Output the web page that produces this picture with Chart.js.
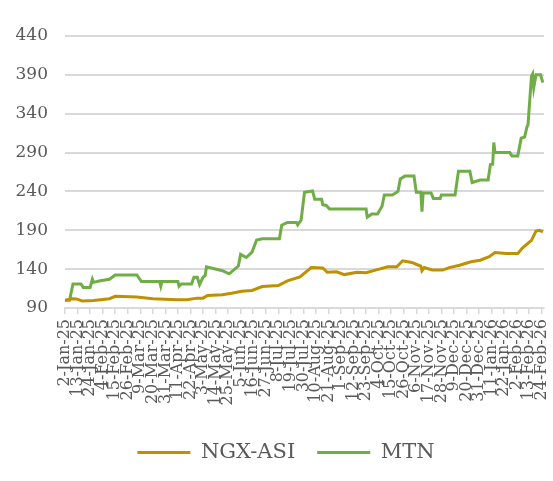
<!DOCTYPE html>
<html>
<head>
<meta charset="utf-8">
<script src="https://cdn.jsdelivr.net/npm/chart.js@4/dist/chart.umd.min.js"></script>
<style>
  html, body { margin: 0; padding: 0; background: #fff; }
  #wrap { width: 553px; height: 481px; position: relative; }
</style>
</head>
<body>
<div id="wrap"><canvas id="grafica"></canvas></div>
<script>
// dias desde 2-Jan-25 (eje de fechas, marca cada 11 dias)
    const startDate = Date.UTC(2025, 0, 2);
    const tickDays = [];
    for (let d = 0; d <= 418; d += 11) tickDays.push(d);
    const monthNames = ['Jan', 'Feb', 'Mar', 'Apr', 'May', 'Jun', 'Jul', 'Aug', 'Sep', 'Oct', 'Nov', 'Dec'];

// NGX-ASI (base 100)
    const ngxDays = [0, 6, 10, 15, 25, 39, 44, 63, 77, 98, 107, 116, 121, 125, 138, 146, 155, 164, 173, 187,
        195, 206, 216, 226, 230, 238, 245, 256, 264, 273, 283, 291, 296, 304, 310, 312, 313, 315, 322, 331,
        337, 346, 356, 364, 372, 377, 387, 397, 401, 409, 413, 416, 419];
    const ngxVals = [100, 101.8, 101.7, 99, 99.8, 102, 105, 104, 102, 100.6, 100.6, 102.7, 102.7, 106, 107, 109, 111.6, 112.5, 117.6, 119,
        125, 130, 142, 141.5, 136, 136.5, 133, 136, 135.5, 139, 143, 143, 150.7, 148.6, 145, 144, 138, 142, 139, 138.8,
        142, 145, 149.5, 151.5, 156, 161.3, 160, 160, 167, 177, 189, 190, 188];

// MTN (base 100)
    const mtnDays = [0, 4, 7, 14, 16, 22, 24, 25, 31, 39, 44, 63, 67, 83, 84, 85, 99, 100, 102, 111,
        113, 116, 118, 121, 123, 124, 138, 144, 152, 154, 159, 164, 168, 173, 188, 190, 195, 203, 204, 207,
        210, 217, 219, 225, 226, 229, 232, 264, 265, 269, 274, 278, 280, 287, 292, 294, 298, 306, 308, 312,
        313, 314, 321, 323, 329, 330, 342, 345, 355, 357, 364, 371, 373, 375, 376, 377, 390, 392, 397, 400,
        403, 405, 406, 409, 410, 411, 413, 417, 419];
    const mtnVals = [100, 100, 121, 121, 116.5, 116.5, 127, 123, 125, 127, 132.5, 132.5, 124, 124, 118, 124, 124, 118, 121, 121,
        129.5, 129.5, 120, 129.5, 132, 143, 138, 134, 144, 159, 155, 162, 177.5, 179, 179, 196.5, 200, 200, 197, 203,
        239, 240.6, 230, 230, 223, 222, 217.3, 217.3, 207, 211, 211, 221, 235.5, 235.5, 240, 256, 259.7, 259.7, 239, 239,
        214, 238, 238, 231, 231, 235.5, 235.5, 266, 266, 251.5, 254.6, 254.6, 274.6, 275, 303, 290, 290, 285.5, 285.5, 308.6,
        310, 322.6, 326, 388, 391, 373.5, 390, 390, 380];

// ejes
    const yMin = 90, yMax = 440, yStep = 50;

    function dateLabel(v) {
        const d = new Date(startDate + v * 86400000);
        const yy = String(d.getUTCFullYear()).slice(2);
        return d.getUTCDate() + '-' + monthNames[d.getUTCMonth()] + '-' + yy;
    }

    function toPoints(xs, ys) {
        return xs.map((x, i) => ({ x: x, y: ys[i] }));
    }

    const textColor = '#595959';
    const gridColor = '#d9d9d9';

// la leyenda va centrada bajo el area del grafico, no bajo todo el lienzo
    const legendShift = {
        id: 'legendShift',
        afterLayout(chart) {
            chart.legend.left += 14;
            chart.legend.right += 14;
        }
    };

//Grafica
    const ctx = document.getElementById('grafica').getContext('2d');
    const chart = new Chart(ctx, {
        type: 'line',
        data: {
            datasets: [{
                label: 'NGX-ASI',
                data: toPoints(ngxDays, ngxVals),
                borderColor: '#bf9000',
                backgroundColor: '#bf9000',
                borderWidth: 3,
                pointRadius: 0,
                tension: 0
            }, {
                label: 'MTN',
                data: toPoints(mtnDays, mtnVals),
                borderColor: '#70ad47',
                backgroundColor: '#70ad47',
                borderWidth: 3,
                pointRadius: 0,
                tension: 0
            }]
        },
        options: {
            responsive: true,
            maintainAspectRatio: false,
            animation: false,
            layout: { padding: { top: 36, right: 9, left: 0, bottom: 8 } },
            plugins: {
                tooltip: { enabled: false },
                legend: {
                    position: 'bottom',
                    labels: {
                        usePointStyle: true,
                        pointStyle: 'line',
                        pointStyleWidth: 53,
                        color: textColor,
                        padding: 22,
                        font: { family: 'DejaVu Serif', size: 21 }
                    }
                }
            },
            scales: {
                x: {
                    type: 'linear',
                    min: 0,
                    max: 420,
                    afterBuildTicks: (scale) => {
                        scale.ticks = tickDays.map(v => ({ value: v }));
                    },
                    afterFit: (scale) => {
                        scale.height = 112;
                        scale.paddingLeft = 0;
                        scale.paddingRight = 0;
                    },
                    grid: {
                        drawOnChartArea: false,
                        drawTicks: true,
                        tickLength: 6,
                        color: gridColor,
                        lineWidth: 1.5
                    },
                    border: { display: true, color: gridColor, width: 2 },
                    ticks: {
                        autoSkip: false,
                        minRotation: 90,
                        maxRotation: 90,
                        padding: 5,
                        color: textColor,
                        font: { family: 'DejaVu Serif', size: 16 },
                        callback: (v) => dateLabel(v)
                    }
                },
                y: {
                    min: yMin,
                    max: yMax,
                    afterFit: (scale) => { scale.width = 65; },
                    grid: {
                        drawTicks: false,
                        color: gridColor,
                        lineWidth: 2
                    },
                    border: { display: false },
                    ticks: {
                        stepSize: yStep,
                        padding: 17,
                        color: textColor,
                        font: { family: 'DejaVu Serif', size: 17 }
                    }
                }
            }
        },
        plugins: [legendShift]
    });
</script>
</body>
</html>
